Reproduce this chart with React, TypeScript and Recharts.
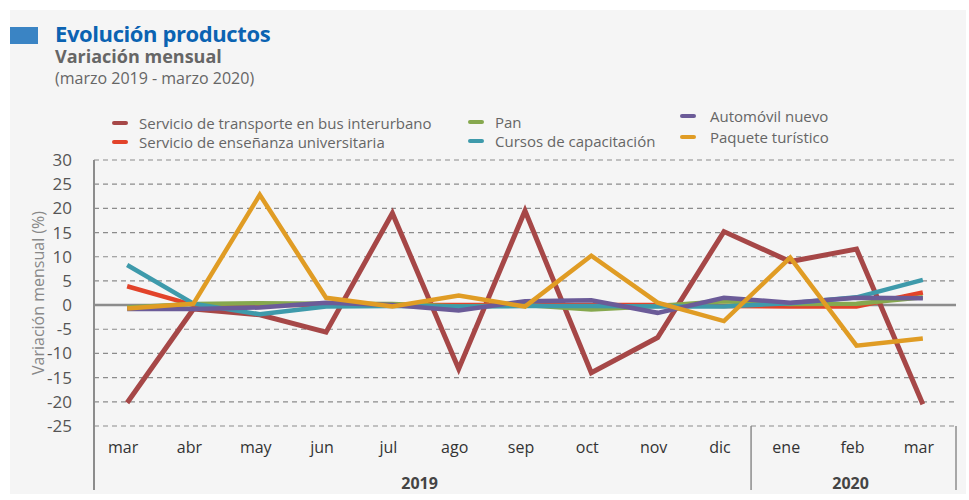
import React from 'react';
import { LineChart, Line, XAxis, YAxis, CartesianGrid, ReferenceLine } from 'recharts';

// months on the axis, with the year each belongs to
const months = ['mar', 'abr', 'may', 'jun', 'jul', 'ago', 'sep', 'oct', 'nov', 'dic', 'ene', 'feb', 'mar'];
const monthYears = ['2019', '2019', '2019', '2019', '2019', '2019', '2019', '2019', '2019', '2019', '2020', '2020', '2020'];

// monthly variation (%)
const busInterurbano = [-20.2, -0.8, -2.0, -5.6, 19.0, -13.2, 19.5, -14.0, -6.7, 15.2, 9.0, 11.6, -20.5];
const ensenanza = [3.9, 0.0, 0.0, 0.0, 0.0, 0.0, 0.0, 0.0, 0.0, -0.2, -0.3, -0.3, 2.6];
const pan = [-0.5, 0.2, 0.4, 0.3, 0.2, -0.3, 0.0, -0.9, -0.2, 0.8, 0.2, 0.3, 1.6];
const cursos = [8.3, 0.3, -1.9, -0.3, -0.2, -0.3, -0.2, -0.2, -0.3, -0.3, 0.4, 1.6, 5.2];
const automovil = [-0.8, -0.8, -0.5, 0.5, 0.0, -1.1, 0.8, 1.0, -1.6, 1.5, 0.5, 1.5, 1.4];
const paquete = [-0.7, 0.3, 22.8, 1.5, -0.3, 2.0, -0.3, 10.2, 0.5, -3.3, 9.8, -8.4, -6.9];

const yTicks = [30, 25, 20, 15, 10, 5, 0, -5, -10, -15, -20, -25];
const xTicks = months.map((_, i) => i);

const series = [
  { key: 'bus', name: 'Servicio de transporte en bus interurbano', color: '#a64747', values: busInterurbano, width: 5 },
  { key: 'ens', name: 'Servicio de enseñanza universitaria', color: '#e2432a', values: ensenanza, width: 4.5 },
  { key: 'pan', name: 'Pan', color: '#86a84e', values: pan, width: 4.5 },
  { key: 'cur', name: 'Cursos de capacitación', color: '#3e9aab', values: cursos, width: 4.5 },
  { key: 'aut', name: 'Automóvil nuevo', color: '#6b5b98', values: automovil, width: 4.5 },
  { key: 'paq', name: 'Paquete turístico', color: '#e09c24', values: paquete, width: 4.5 },
];

const data = months.map((m, i) => {
  const row: any = { idx: i, month: m, year: monthYears[i] };
  series.forEach(s => { row[s.key] = s.values[i]; });
  return row;
});

// legend columns (order as in the original)
const legendCols = [
  { x: 112, tx: 139, top: 113, gap: 19, keys: ['bus', 'ens'] },
  { x: 468, tx: 495, top: 112, gap: 19, keys: ['pan', 'cur'] },
  { x: 680, tx: 710, top: 106, gap: 21, keys: ['aut', 'paq'] },
];

const FONT = '"Open Sans", sans-serif';
const AXIS = '#8c8c8c';

function MonthTick(props: any) {
  const { x, y, payload, index } = props;
  const half = (props.width || 862) / months.length / 2;
  const year = monthYears[index];
  const first = monthYears.indexOf(year);
  const last = monthYears.lastIndexOf(year);
  const mid = (first + last) / 2;
  const bottom = y + 64;
  const sepX = index === 0 ? x - half : x - half - 6;
  return (
    <g>
      <text x={x - 4} y={y + 27} textAnchor="middle" fontSize={16} fill="#333" fontFamily={FONT}>
        {months[payload.value]}
      </text>
      {index === Math.floor(mid) && (
        <text x={x + (mid % 1 ? half : 0) - 6} y={y + 63} textAnchor="middle" fontSize={16} fontWeight={700} fill="#444" fontFamily={FONT}>
          {year}
        </text>
      )}
      {index === first && (
        <line x1={sepX} y1={y} x2={sepX} y2={bottom} stroke={AXIS} strokeWidth={index === 0 ? 2 : 1.5} />
      )}
      {index === months.length - 1 && (
        <line x1={x + half} y1={y} x2={x + half} y2={bottom} stroke={AXIS} strokeWidth={1.5} />
      )}
    </g>
  );
}

export default function App() {
  return (
    <div style={{ position: 'absolute', left: 0, top: 0, width: 969, height: 500, background: '#fff', fontFamily: FONT }}>
      <div style={{ position: 'absolute', left: 10, top: 10, width: 956, height: 484, background: '#f5f5f5' }} />
      <div style={{ position: 'absolute', left: 10, top: 27, width: 28, height: 17, background: '#3a84c4' }} />
      <div style={{ position: 'absolute', left: 55, top: 22, fontSize: 22, fontWeight: 700, color: '#0b63b2', lineHeight: '22px', letterSpacing: -0.4 }}>
        Evolución productos
      </div>
      <div style={{ position: 'absolute', left: 55, top: 47, fontSize: 18, fontWeight: 700, color: '#666', lineHeight: '18px' }}>
        Variación mensual
      </div>
      <div style={{ position: 'absolute', left: 55, top: 68, fontSize: 16, color: '#666', lineHeight: '20px' }}>
        (marzo 2019 - marzo 2020)
      </div>

      {legendCols.map(col =>
        col.keys.map((k, r) => {
          const s = series.find(z => z.key === k)!;
          const top = col.top + r * col.gap;
          return (
            <React.Fragment key={k}>
              <div style={{ position: 'absolute', left: col.x, top: top + 8, width: 16, height: 4, borderRadius: 2, background: s.color }} />
              <div style={{ position: 'absolute', left: col.tx, top, fontSize: 15, color: '#666', lineHeight: '20px', whiteSpace: 'nowrap' }}>
                {s.name}
              </div>
            </React.Fragment>
          );
        })
      )}

      <div style={{ position: 'absolute', left: 0, top: 0 }}>
        <LineChart width={969} height={500} data={data} margin={{ top: 160, right: 13, bottom: 0, left: 0 }}>
          <CartesianGrid vertical={false} stroke={AXIS} strokeDasharray="5 4" strokeWidth={1.2} />
          <XAxis
            dataKey="idx"
            type="number"
            domain={[-0.5, months.length - 0.5]}
            ticks={xTicks}
            height={74}
            interval={0}
            axisLine={false}
            tickLine={false}
            tickSize={0}
            tickMargin={0}
            tick={<MonthTick />}
          />
          <YAxis
            width={94}
            domain={[-25, 30]}
            ticks={yTicks}
            interval={0}
            tickLine={false}
            tickSize={0}
            tickMargin={22}
            axisLine={{ stroke: AXIS, strokeWidth: 2 }}
            tick={{ fontSize: 17, fill: '#555', fontFamily: FONT }}
            label={{ value: 'Variación mensual (%)', angle: -90, position: 'center', dx: -9, style: { fontSize: 16, fill: '#888', fontFamily: FONT } }}
          />
          <YAxis yAxisId="r" orientation="right" width={0} domain={[-25, 30]} tick={false} tickLine={false} axisLine={{ stroke: AXIS, strokeWidth: 1.5 }} />
          <ReferenceLine y={0} stroke={AXIS} strokeWidth={2.5} />
          {series.map(s => (
            <Line
              key={s.key}
              dataKey={s.key}
              name={s.name}
              type="linear"
              stroke={s.color}
              strokeWidth={s.width}
              dot={false}
              activeDot={false}
              isAnimationActive={false}
            />
          ))}
        </LineChart>
      </div>
    </div>
  );
}
